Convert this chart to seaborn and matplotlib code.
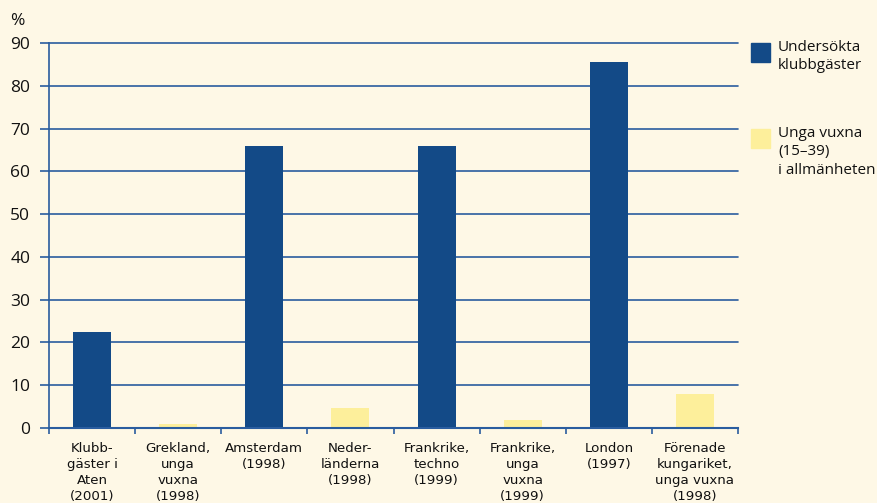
import numpy as np
import pandas as pd
import matplotlib
matplotlib.use("Agg")
import matplotlib.pyplot as plt
from matplotlib.patches import Rectangle
import seaborn as sns

# ------------------------------------------------------------
# data
# ------------------------------------------------------------
categories = [
    "Klubb-\ngäster i\nAten\n(2001)",
    "Grekland,\nunga\nvuxna\n(1998)",
    "Amsterdam\n(1998)",
    "Neder-\nländerna\n(1998)",
    "Frankrike,\ntechno\n(1999)",
    "Frankrike,\nunga\nvuxna\n(1999)",
    "London\n(1997)",
    "Förenade\nkungariket,\nunga vuxna\n(1998)",
]
values = [22.5, 1.0, 66.0, 4.7, 66.0, 1.9, 85.5, 8.0]
groups = ["club", "young", "club", "young", "club", "young", "club", "young"]
legend_labels = {"club": "Undersökta\nklubbgäster",
                 "young": "Unga vuxna\n(15–39)\ni allmänheten"}
yticks = list(range(0, 100, 10))

BG = "#fef8e6"
BLUE = "#134a87"
YELLOW = "#fdef9b"
LINE = "#2a5d9f"

df = pd.DataFrame({"cat": categories, "val": values, "grp": groups})

sns.set_theme(style="white")
plt.rcParams["font.family"] = ["Open Sans", "DejaVu Sans"]

fig = plt.figure(figsize=(8.77, 5.03), dpi=100, facecolor=BG)
ax = fig.add_axes([49 / 877, 75 / 503, (738 - 49) / 877, 385 / 503])
ax.set_facecolor(BG)

for t in yticks[1:]:
    ax.axhline(t, color=LINE, lw=1.2, zorder=0, clip_on=False)

sns.barplot(data=df, x="cat", y="val", hue="grp", order=categories,
            palette={"club": BLUE, "young": YELLOW}, dodge=False,
            width=0.44, saturation=1, legend=False, linewidth=0,
            edgecolor="none", ax=ax)

ax.set_xlim(-0.5, len(categories) - 0.5)
ax.set_ylim(0, 90)
ax.set_yticks(yticks)
ax.set_xlabel("")
ax.set_ylabel("")

for side in ["top", "right"]:
    ax.spines[side].set_visible(False)
ax.spines["left"].set_color(LINE)
ax.spines["bottom"].set_color(LINE)
ax.spines["left"].set_linewidth(1.2)
ax.spines["bottom"].set_linewidth(1.5)

ax.tick_params(axis="y", left=True, length=6.5, width=1.2, color=LINE,
               pad=7, labelsize=12.5, labelcolor="#111111")
ax.tick_params(axis="x", bottom=False, pad=4, labelcolor="#111111")
for lbl in ax.get_xticklabels():
    lbl.set_fontfamily(["Liberation Sans Narrow", "DejaVu Sans"])
    lbl.set_fontsize(9.6)
    lbl.set_linespacing(1.3)
    lbl.set_verticalalignment("top")

# boundary ticks between categories
ax.set_xticks(np.arange(-0.5, len(categories)), minor=True)
ax.tick_params(axis="x", which="minor", bottom=True, length=4, width=1.2,
               color=LINE)

fig.text(10 / 877, 1 - 21 / 503, "%", fontsize=12.5, va="center", ha="left",
         color="#111111")

# legend drawn by hand
fig.add_artist(Rectangle((751 / 877, 1 - 62 / 503), 19 / 877, 19 / 503,
                         transform=fig.transFigure, color=BLUE))
fig.text(778 / 877, 1 - 40 / 503, legend_labels["club"], fontsize=11,
         va="top", ha="left", linespacing=1.3, color="#111111")
fig.add_artist(Rectangle((751 / 877, 1 - 148 / 503), 19 / 877, 19 / 503,
                         transform=fig.transFigure, color=YELLOW))
fig.text(778 / 877, 1 - 126 / 503, legend_labels["young"], fontsize=11,
         va="top", ha="left", linespacing=1.3, color="#111111")

plt.savefig("out.png", dpi=100, facecolor=BG)
